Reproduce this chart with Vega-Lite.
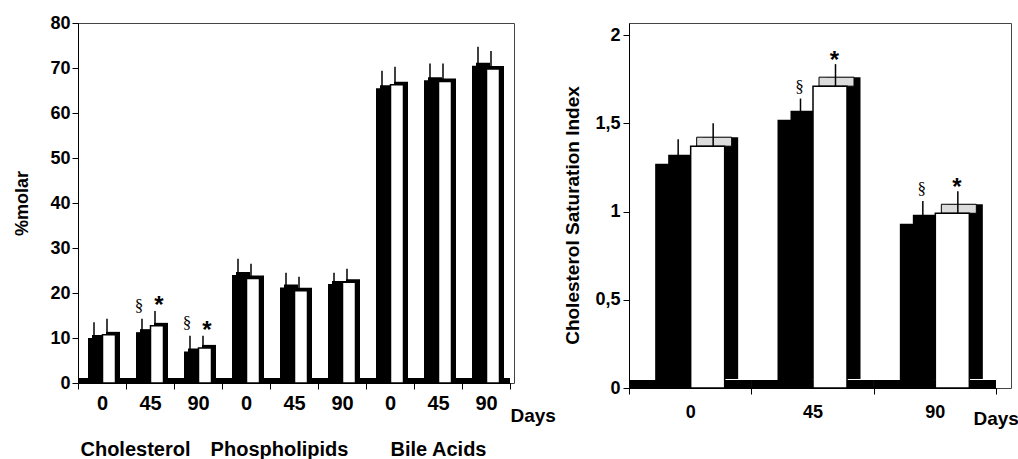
{
  "$schema": "https://vega.github.io/schema/vega-lite/v6.json",
  "background": "white",
  "padding": {"left": 13, "top": 13, "right": 0, "bottom": 0},
  "bounds": "flush",
  "spacing": 115,
  "config": {
    "view": {"stroke": "#444", "strokeWidth": 1},
    "font": "Liberation Sans",
    "axis": {
      "labelFont": "Liberation Sans", "titleFont": "Liberation Sans",
      "labelFontWeight": "bold", "titleFontWeight": "bold",
      "labelColor": "black", "titleColor": "black",
      "domainColor": "black", "tickColor": "black", "grid": false
    }
  },
  "datasets": {
    "lipids": [
      {"slot": "Cholesterol|0", "series": "A", "value": 10.0, "err": 13.5, "sig": ""},
      {"slot": "Cholesterol|0", "series": "B", "value": 10.7, "err": 14.3, "sig": ""},
      {"slot": "Cholesterol|45", "series": "A", "value": 11.3, "err": 14.3, "sig": "§"},
      {"slot": "Cholesterol|45", "series": "B", "value": 12.7, "err": 16.0, "sig": "*"},
      {"slot": "Cholesterol|90", "series": "A", "value": 7.0, "err": 10.5, "sig": "§"},
      {"slot": "Cholesterol|90", "series": "B", "value": 7.8, "err": 10.5, "sig": "*"},
      {"slot": "Phospholipids|0", "series": "A", "value": 24.0, "err": 27.6, "sig": ""},
      {"slot": "Phospholipids|0", "series": "B", "value": 23.2, "err": 26.5, "sig": ""},
      {"slot": "Phospholipids|45", "series": "A", "value": 21.2, "err": 24.5, "sig": ""},
      {"slot": "Phospholipids|45", "series": "B", "value": 20.5, "err": 23.6, "sig": ""},
      {"slot": "Phospholipids|90", "series": "A", "value": 22.0, "err": 24.5, "sig": ""},
      {"slot": "Phospholipids|90", "series": "B", "value": 22.4, "err": 25.4, "sig": ""},
      {"slot": "Bile Acids|0", "series": "A", "value": 65.5, "err": 69.4, "sig": ""},
      {"slot": "Bile Acids|0", "series": "B", "value": 66.3, "err": 70.3, "sig": ""},
      {"slot": "Bile Acids|45", "series": "A", "value": 67.3, "err": 71.0, "sig": ""},
      {"slot": "Bile Acids|45", "series": "B", "value": 67.0, "err": 71.0, "sig": ""},
      {"slot": "Bile Acids|90", "series": "A", "value": 70.5, "err": 74.7, "sig": ""},
      {"slot": "Bile Acids|90", "series": "B", "value": 69.8, "err": 73.8, "sig": ""}
    ],
    "csi": [
      {"day": "0", "series": "A", "value": 1.27, "err": 1.41, "sig": ""},
      {"day": "0", "series": "B", "value": 1.37, "err": 1.50, "sig": ""},
      {"day": "45", "series": "A", "value": 1.52, "err": 1.64, "sig": "§"},
      {"day": "45", "series": "B", "value": 1.71, "err": 1.835, "sig": "*"},
      {"day": "90", "series": "A", "value": 0.93, "err": 1.06, "sig": "§"},
      {"day": "90", "series": "B", "value": 0.99, "err": 1.115, "sig": "*"}
    ]
  },
  "hconcat": [
    {
      "width": 436,
      "height": 360,
      "data": {"name": "lipids"},
      "encoding": {
        "x": {
          "field": "slot", "type": "nominal", "title": "Days",
          "scale": {
            "domain": ["Cholesterol|0", "Cholesterol|45", "Cholesterol|90", "Phospholipids|0", "Phospholipids|45", "Phospholipids|90", "Bile Acids|0", "Bile Acids|45", "Bile Acids|90"],
            "range": [0, 432], "paddingInner": 0, "paddingOuter": 0
          },
          "axis": {
            "labelAngle": 0, "tickBand": "extent", "tickSize": 6,
            "labelFontSize": 20, "labelPadding": 4, "labelLineHeight": 46,
            "labelOverlap": false,
            "labelExpr": "split(datum.value,'|')[1] == '45' ? [split(datum.value,'|')[1], split(datum.value,'|')[0] + (split(datum.value,'|')[0] == 'Cholesterol' ? '\u2800\u2800' : split(datum.value,'|')[0] == 'Phospholipids' ? '\u2800\u2800' : '')] : split(datum.value,'|')[1]",
            "titleFontSize": 19, "titleX": 432, "titleY": 32, "titleAlign": "left", "titleBaseline": "middle"
          }
        },
        "y": {
          "field": "value", "type": "quantitative", "title": "%molar",
          "scale": {"domain": [0, 80], "nice": false},
          "axis": {
            "values": [0, 10, 20, 30, 40, 50, 60, 70, 80],
            "labelFontSize": 18, "tickSize": 6, "labelPadding": 2,
            "titleFontSize": 18, "titlePadding": 18
          }
        }
      },
      "layer": [
        {
          "mark": {"type": "bar", "color": "black", "yOffset": -5},
          "encoding": {"y": {"datum": 0, "type": "quantitative", "title": "%molar"}, "y2": {"datum": 0}}
        },
        {
          "transform": [{"filter": "datum.series == 'A'"}],
          "mark": {"type": "bar", "color": "black", "width": 14, "xOffset": -3, "yOffset": -3}
        },
        {
          "transform": [{"filter": "datum.series == 'B'"}],
          "mark": {"type": "bar", "color": "black", "width": 14, "xOffset": 11, "yOffset": -3}
        },
        {
          "transform": [{"filter": "datum.series == 'A'"}],
          "mark": {"type": "bar", "color": "black", "width": 14, "xOffset": -7}
        },
        {
          "transform": [{"filter": "datum.series == 'B'"}],
          "mark": {"type": "bar", "fill": "white", "stroke": "black", "strokeWidth": 1.5, "width": 13, "xOffset": 7}
        },
        {
          "transform": [{"filter": "datum.series == 'A'"}],
          "mark": {"type": "rule", "color": "black", "strokeWidth": 1.5, "xOffset": -8},
          "encoding": {"y2": {"field": "err"}}
        },
        {
          "transform": [{"filter": "datum.series == 'B'"}],
          "mark": {"type": "rule", "color": "black", "strokeWidth": 1.5, "xOffset": 5},
          "encoding": {"y2": {"field": "err"}}
        },
        {
          "transform": [{"filter": "datum.sig == '§'"}],
          "mark": {"type": "text", "font": "Liberation Serif", "fontSize": 17, "color": "black", "baseline": "alphabetic", "xOffset": -11, "dy": -8},
          "encoding": {"y": {"field": "err", "type": "quantitative"}, "text": {"field": "sig"}}
        },
        {
          "transform": [{"filter": "datum.sig == '*'"}],
          "mark": {"type": "text", "font": "Liberation Sans", "fontWeight": "bold", "fontSize": 24, "color": "black", "baseline": "alphabetic", "xOffset": 9, "dy": 2},
          "encoding": {"y": {"field": "err", "type": "quantitative"}, "text": {"field": "sig"}}
        }
      ]
    },
    {
      "width": 382,
      "height": 365,
      "data": {"name": "csi"},
      "encoding": {
        "x": {
          "field": "day", "type": "nominal", "title": "Days",
          "scale": {"domain": ["0", "45", "90"], "range": [0, 367], "paddingInner": 0, "paddingOuter": 0},
          "axis": {
            "labelAngle": 0, "tickBand": "extent", "tickSize": 6,
            "labelFontSize": 18, "labelPadding": 9,
            "titleFontSize": 19, "titleX": 344, "titleY": 30, "titleAlign": "left", "titleBaseline": "middle"
          }
        },
        "y": {
          "field": "value", "type": "quantitative", "title": "Cholesterol Saturation Index",
          "scale": {"domain": [0, 2.068], "nice": false},
          "axis": {
            "values": [0, 0.5, 1, 1.5, 2],
            "labelExpr": "replace(toString(datum.value), '.', ',')",
            "labelFontSize": 18, "tickSize": 6, "labelPadding": 3,
            "titleFontSize": 19, "titlePadding": 12, "titleY": 192
          }
        }
      },
      "layer": [
        {
          "mark": {"type": "bar", "color": "black", "yOffset": -8},
          "encoding": {"y": {"datum": 0, "type": "quantitative", "title": "Cholesterol Saturation Index"}, "y2": {"datum": 0}}
        },
        {
          "transform": [{"filter": "datum.series == 'A'"}],
          "mark": {"type": "bar", "color": "black", "width": 35, "xOffset": -4.5, "yOffset": -9}
        },
        {
          "transform": [{"filter": "datum.series == 'B'"}],
          "mark": {"type": "bar", "color": "black", "width": 35, "xOffset": 30.5, "yOffset": -9}
        },
        {
          "transform": [{"filter": "datum.series == 'B'"}],
          "mark": {"type": "bar", "fill": "#dcdcdc", "stroke": "black", "strokeWidth": 1, "width": 35, "xOffset": 24, "yOffset": -9},
          "encoding": {"y2": {"field": "value"}}
        },
        {
          "transform": [{"filter": "datum.series == 'A'"}],
          "mark": {"type": "bar", "color": "black", "width": 35, "xOffset": -17.5}
        },
        {
          "transform": [{"filter": "datum.series == 'B'"}],
          "mark": {"type": "bar", "fill": "white", "stroke": "black", "strokeWidth": 1.5, "width": 34, "xOffset": 17.5}
        },
        {
          "transform": [{"filter": "datum.series == 'A'"}],
          "mark": {"type": "rule", "color": "black", "strokeWidth": 1.5, "xOffset": -12},
          "encoding": {"y2": {"field": "err"}}
        },
        {
          "transform": [{"filter": "datum.series == 'B'"}],
          "mark": {"type": "rule", "color": "black", "strokeWidth": 1.5, "xOffset": 23},
          "encoding": {"y2": {"field": "err"}}
        },
        {
          "transform": [{"filter": "datum.sig == '§'"}],
          "mark": {"type": "text", "font": "Liberation Serif", "fontSize": 17, "color": "black", "baseline": "alphabetic", "xOffset": -13, "dy": -7},
          "encoding": {"y": {"field": "err", "type": "quantitative"}, "text": {"field": "sig"}}
        },
        {
          "transform": [{"filter": "datum.sig == '*'"}],
          "mark": {"type": "text", "font": "Liberation Sans", "fontWeight": "bold", "fontSize": 24, "color": "black", "baseline": "alphabetic", "xOffset": 22, "dy": 4},
          "encoding": {"y": {"field": "err", "type": "quantitative"}, "text": {"field": "sig"}}
        }
      ]
    }
  ]
}
